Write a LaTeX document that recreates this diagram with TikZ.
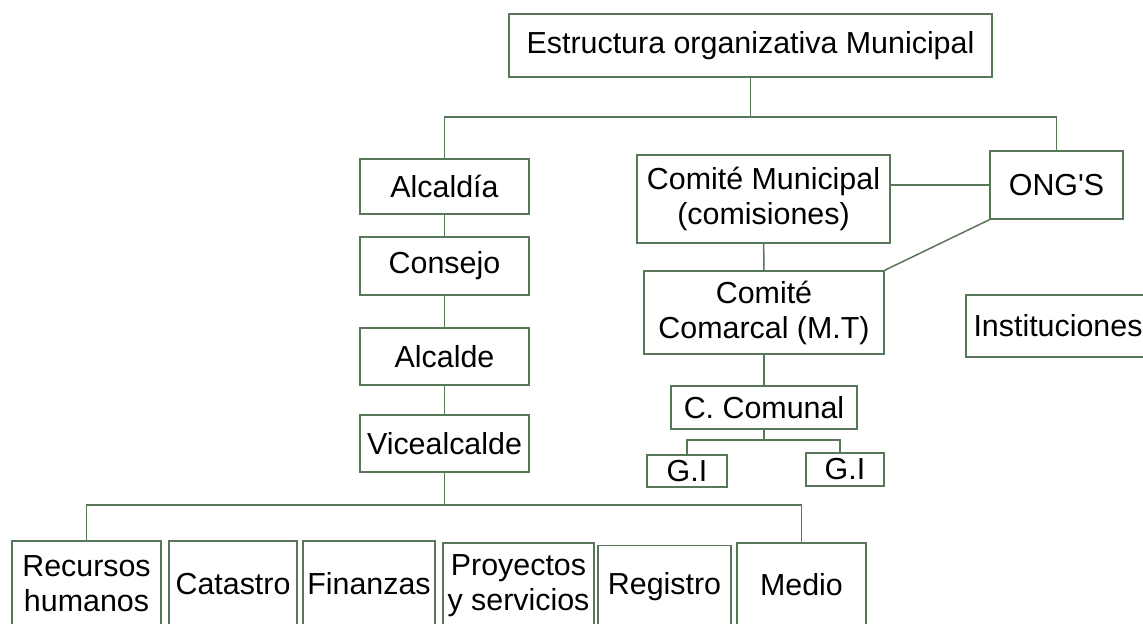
\documentclass[tikz,border=0pt]{standalone}
\usepackage{fontspec}
\setmainfont{Liberation Sans}
\usepackage{tikz}

\definecolor{boxgreen}{RGB}{88,118,88}

\begin{document}
\begin{tikzpicture}[x=0.5pt, y=-0.5pt,
  box/.style={draw=boxgreen, line width=0.75pt, inner sep=0pt, align=center,
    font=\fontsize{15.2}{17.5}\selectfont},
  line/.style={draw=boxgreen, line width=0.75pt},
  every edge/.style={line}]

  \useasboundingbox (0,0) rectangle (1143,623);
  \clip (0,0) rectangle (1143,623);

  \node[box, minimum width=241.5pt, minimum height=31.5pt] (top) at (750.5,45.5) {Estructura organizativa Municipal};

  \node[box, minimum width=84.5pt, minimum height=27.5pt] (alc) at (444.5,186.5) {Alcald\'ia};
  \node[box, minimum width=84.5pt, minimum height=29pt] (con) at (444.5,266) {Consejo};
  \node[box, minimum width=84.5pt, minimum height=28.5pt] (alcde) at (444.5,356.5) {Alcalde};
  \node[box, minimum width=84.5pt, minimum height=28.5pt] (vic) at (444.5,443.5) {Vicealcalde};

  \node[box, minimum width=126.5pt, minimum height=44pt] (cm) at (763.5,199) {Comit\'e Municipal\\(comisiones)};
  \node[box, minimum width=66.5pt, minimum height=34pt] (ong) at (1056.5,185) {ONG\textquotesingle S};
  \node[box, minimum width=120pt, minimum height=41.5pt] (cc) at (764,312.5) {Comit\'e\\Comarcal (M.T)};
  \node[box, minimum width=92pt, minimum height=31pt] (inst) at (1058,326) {Instituciones};
  \node[box, minimum width=93pt, minimum height=21.5pt] (cco) at (764,407.5) {C. Comunal};
  \node[box, minimum width=40pt, minimum height=16pt] (gi1) at (687,471) {G.I};
  \node[box, minimum width=39pt, minimum height=16.5pt] (gi2) at (845,469.5) {G.I};

  \node[box, minimum width=74.5pt, minimum height=43pt] (rh) at (86.5,584) {Recursos\\humanos};
  \node[box, minimum width=64pt, minimum height=43pt] (cat) at (233,584) {Catastro};
  \node[box, minimum width=66pt, minimum height=43pt] (fin) at (369,584) {Finanzas};
  \node[box, minimum width=75.5pt, minimum height=43pt] (pro) at (518.5,586) {Proyectos\\y servicios};
  \node[box, minimum width=66.5pt, minimum height=41.5pt] (reg) at (664.5,587) {Registro};
  \node[box, minimum width=64.5pt, minimum height=42pt] (med) at (801.5,585) {Medio};

  \coordinate (j1) at (750.5,117);
  \coordinate (j2) at (444.5,505);
  \coordinate (j3) at (764,440);

  \draw[line] (top) -- (j1);
  \draw[line] (j1) -| (alc);
  \draw[line] (j1) -| (ong);

  \path (alc) edge (con);
  \path (con) edge (alcde);
  \path (alcde) edge (vic);

  \draw[line] (ong.west) -- (ong.west -| cm.east);
  \draw[line] (ong.south west) -- (cc.north east);
  \path (cm) edge (cc);
  \path (cc) edge (cco);

  \draw[line] (cco) -- (j3);
  \draw[line] (j3) -| (gi1);
  \draw[line] (j3) -| ([xshift=-2.5pt]gi2.north);

  \draw[line] (vic) -- (j2);
  \draw[line] (j2) -| (rh);
  \draw[line] (j2) -| (med);
\end{tikzpicture}
\end{document}
